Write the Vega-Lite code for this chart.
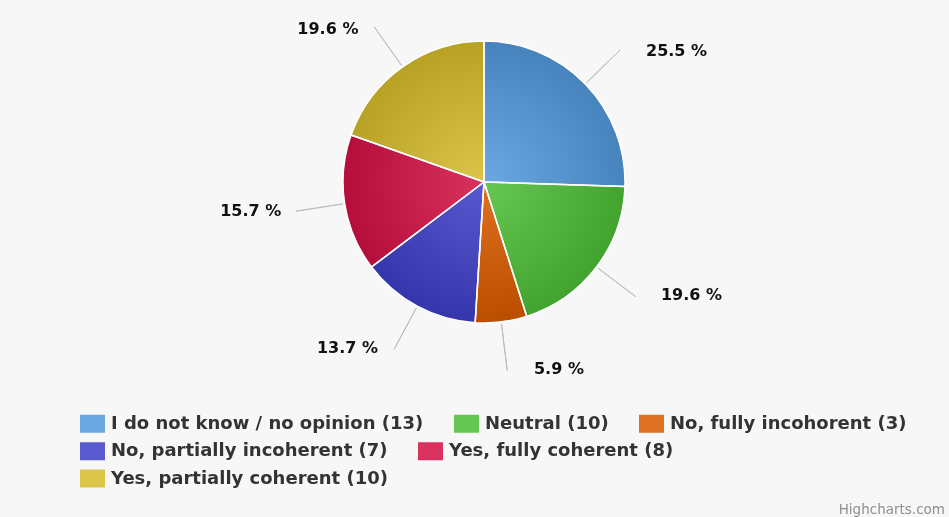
{
  "$schema": "https://vega.github.io/schema/vega-lite/v6.json",
  "width": 930,
  "height": 364,
  "autosize": "none",
  "padding": {"left": 19, "top": 0, "right": 0, "bottom": 153},
  "background": "#f7f7f7",
  "config": {"view": {"stroke": null}, "font": "DejaVu Sans"},
  "data": {
    "values": [
      {"answer": "I do not know / no opinion (13)", "percent": 25.5},
      {"answer": "Neutral (10)", "percent": 19.6},
      {"answer": "No, fully incohorent (3)", "percent": 5.9},
      {"answer": "No, partially incoherent (7)", "percent": 13.7},
      {"answer": "Yes, fully coherent (8)", "percent": 15.7},
      {"answer": "Yes, partially coherent (10)", "percent": 19.6}
    ]
  },
  "title": {
    "text": "Highcharts.com",
    "orient": "bottom",
    "anchor": "end",
    "frame": "group",
    "offset": 15,
    "dx": -4,
    "font": "DejaVu Sans",
    "fontSize": 13.5,
    "fontWeight": "normal",
    "color": "#8f8f8f"
  },
  "layer": [
    {
      "transform": [
        {"stack": "percent", "groupby": [], "sort": [{"field": "answer", "order": "ascending"}], "as": ["v0", "v1"]},
        {"filter": {"field": "answer", "oneOf": ["I do not know / no opinion (13)", "Neutral (10)", "No, fully incohorent (3)"]}}
      ],
      "mark": {"type": "arc", "radius": 141, "strokeWidth": 0},
      "encoding": {
        "theta": {"field": "v0", "type": "quantitative", "scale": {"domain": [0, 100]}},
        "theta2": {"field": "v1"},
        "color": {
          "field": "answer",
          "type": "nominal",
          "scale": {
            "domain": ["I do not know / no opinion (13)", "Neutral (10)", "No, fully incohorent (3)"],
            "range": ["#6ba7e0", "#66c852", "#de7222"]
          },
          "legend": {
            "title": null, "orient": "none", "legendX": 61, "legendY": 411, "direction": "horizontal",
            "symbolType": "M-1,-0.72L1,-0.72L1,0.72L-1,0.72Z", "symbolSize": 625, "symbolStrokeWidth": 0,
            "labelFont": "DejaVu Sans", "labelFontSize": 18, "labelFontWeight": "bold", "labelColor": "#333333",
            "labelLimit": 600, "labelOffset": 6, "columnPadding": 30, "padding": 0
          }
        }
      }
    },
    {
      "transform": [
        {"stack": "percent", "groupby": [], "sort": [{"field": "answer", "order": "ascending"}], "as": ["v0", "v1"]},
        {"filter": {"field": "answer", "oneOf": ["No, partially incoherent (7)", "Yes, fully coherent (8)"]}}
      ],
      "mark": {"type": "arc", "radius": 141, "strokeWidth": 0},
      "encoding": {
        "theta": {"field": "v0", "type": "quantitative", "scale": {"domain": [0, 100]}},
        "theta2": {"field": "v1"},
        "color": {
          "field": "answer",
          "type": "nominal",
          "scale": {
            "domain": ["No, partially incoherent (7)", "Yes, fully coherent (8)"],
            "range": ["#5a5ad0", "#da325e"]
          },
          "legend": {
            "title": null, "orient": "none", "legendX": 61, "legendY": 438.5, "direction": "horizontal",
            "symbolType": "M-1,-0.72L1,-0.72L1,0.72L-1,0.72Z", "symbolSize": 625, "symbolStrokeWidth": 0,
            "labelFont": "DejaVu Sans", "labelFontSize": 18, "labelFontWeight": "bold", "labelColor": "#333333",
            "labelLimit": 600, "labelOffset": 6, "columnPadding": 30, "padding": 0
          }
        }
      }
    },
    {
      "transform": [
        {"stack": "percent", "groupby": [], "sort": [{"field": "answer", "order": "ascending"}], "as": ["v0", "v1"]},
        {"filter": {"field": "answer", "oneOf": ["Yes, partially coherent (10)"]}}
      ],
      "mark": {"type": "arc", "radius": 141, "strokeWidth": 0},
      "encoding": {
        "theta": {"field": "v0", "type": "quantitative", "scale": {"domain": [0, 100]}},
        "theta2": {"field": "v1"},
        "color": {
          "field": "answer",
          "type": "nominal",
          "scale": {
            "domain": ["Yes, partially coherent (10)"],
            "range": ["#dcc64a"]
          },
          "legend": {
            "title": null, "orient": "none", "legendX": 61, "legendY": 466, "direction": "horizontal",
            "symbolType": "M-1,-0.72L1,-0.72L1,0.72L-1,0.72Z", "symbolSize": 625, "symbolStrokeWidth": 0,
            "labelFont": "DejaVu Sans", "labelFontSize": 18, "labelFontWeight": "bold", "labelColor": "#333333",
            "labelLimit": 600, "labelOffset": 6, "columnPadding": 30, "padding": 0
          }
        }
      }
    },
    {
      "transform": [{"aggregate": [{"op": "sum", "field": "percent", "as": "total"}]}],
      "mark": {
        "type": "arc",
        "radius": 141,
        "strokeWidth": 0,
        "blend": "difference",
        "color": {
          "gradient": "radial",
          "x1": 0.5, "y1": 0.5, "r1": 0,
          "x2": 0.5, "y2": 0.5, "r2": 0.5,
          "stops": [
            {"offset": 0, "color": "#000000"},
            {"offset": 1, "color": "#242424"}
          ]
        }
      },
      "encoding": {
        "theta": {"field": "total", "type": "quantitative", "scale": {"domain": [0, 100]}}
      }
    },
    {
      "transform": [
        {"stack": "percent", "groupby": [], "sort": [{"field": "answer", "order": "ascending"}], "as": ["v0", "v1"]}
      ],
      "mark": {"type": "arc", "radius": 141, "filled": false, "stroke": "#ffffff", "strokeWidth": 1.5},
      "encoding": {
        "theta": {"field": "v0", "type": "quantitative", "scale": {"domain": [0, 100]}},
        "theta2": {"field": "v1"}
      }
    },
    {
      "transform": [
        {"stack": "percent", "groupby": [], "sort": [{"field": "answer", "order": "ascending"}], "as": ["v0", "v1"]},
        {"fold": ["v0", "v1"], "as": ["edge", "pos"]},
        {"aggregate": [{"op": "mean", "field": "pos", "as": "mid"}], "groupby": ["answer", "percent"]}
      ],
      "mark": {"type": "arc", "radius": 190, "radius2": 143, "filled": false, "stroke": "#bdbdbd", "strokeWidth": 1},
      "encoding": {
        "theta": {"field": "mid", "type": "quantitative", "scale": {"domain": [0, 100]}},
        "theta2": {"field": "mid"}
      }
    },
    {
      "transform": [
        {"stack": "percent", "groupby": [], "sort": [{"field": "answer", "order": "ascending"}], "as": ["v0", "v1"]},
        {"fold": ["v0", "v1"], "as": ["edge", "pos"]},
        {"aggregate": [{"op": "mean", "field": "pos", "as": "mid"}], "groupby": ["answer", "percent"]},
        {"filter": {"field": "answer", "oneOf": ["I do not know / no opinion (13)", "Neutral (10)", "No, fully incohorent (3)"]}}
      ],
      "mark": {
        "type": "text", "radius": 188, "align": "left", "baseline": "middle", "dx": 27,
        "font": "DejaVu Sans", "fontSize": 16, "fontWeight": "bold", "fill": "#111111",
        "text": {"expr": "format(datum.percent, '.1f') + ' %'"}
      },
      "encoding": {
        "theta": {"field": "mid", "type": "quantitative", "scale": {"domain": [0, 100]}}
      }
    },
    {
      "transform": [
        {"stack": "percent", "groupby": [], "sort": [{"field": "answer", "order": "ascending"}], "as": ["v0", "v1"]},
        {"fold": ["v0", "v1"], "as": ["edge", "pos"]},
        {"aggregate": [{"op": "mean", "field": "pos", "as": "mid"}], "groupby": ["answer", "percent"]},
        {"filter": {"field": "answer", "oneOf": ["No, partially incoherent (7)", "Yes, fully coherent (8)", "Yes, partially coherent (10)"]}}
      ],
      "mark": {
        "type": "text", "radius": 188, "align": "right", "baseline": "middle", "dx": -17,
        "font": "DejaVu Sans", "fontSize": 16, "fontWeight": "bold", "fill": "#111111",
        "text": {"expr": "format(datum.percent, '.1f') + ' %'"}
      },
      "encoding": {
        "theta": {"field": "mid", "type": "quantitative", "scale": {"domain": [0, 100]}}
      }
    }
  ],
  "resolve": {"scale": {"color": "independent"}, "legend": {"color": "independent"}}
}
